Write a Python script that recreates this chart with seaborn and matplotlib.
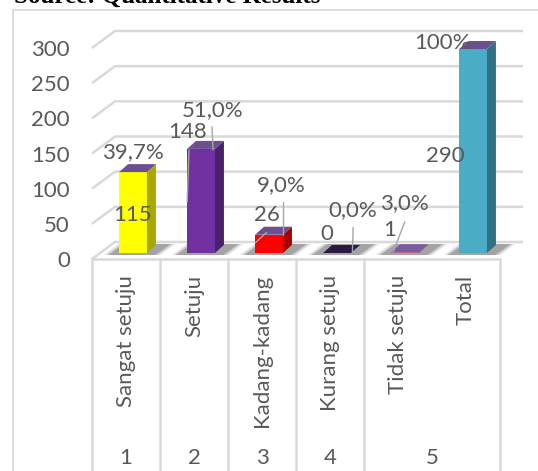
import matplotlib
matplotlib.use("Agg")
import matplotlib.pyplot as plt
import matplotlib.transforms as mtransforms
from matplotlib.patches import Polygon
from matplotlib.lines import Line2D
import seaborn as sns
import pandas as pd

# ---------------- data ----------------
categories = ["Sangat setuju", "Setuju", "Kadang-kadang", "Kurang setuju", "Tidak setuju", "Total"]
values = [115, 148, 26, 0, 1, 290]
value_labels = ["115", "148", "26", "0", "1", "290"]
pct_labels = ["39,7%", "51,0%", "9,0%", "0,0%", "3,0%", "100%"]
group_labels = ["1", "2", "3", "4", "5"]
group_spans = [(0, 0), (1, 1), (2, 2), (3, 3), (4, 5)]
y_ticks = [0, 50, 100, 150, 200, 250, 300]

# ---------------- styles ----------------
front_colors = ["#FFFF00", "#7030A0", "#FF0000", "#21123A", "#D9707A", "#4BACC6"]
side_colors = ["#A8A800", "#4A1F6B", "#A80000", "#150A25", "#8A4F6A", "#2F7283"]
top_colors = ["#6B4F8F", "#6B4F8F", "#6B4F8F", "#2A1A40", "#7A5CA0", "#6B4F8F"]
pct_pos = [(0.10, 152), (1.27, 212), (2.29, 105), (3.34, 70), (4.10, 80), (4.66, 307)]
val_pos = [(0.09, 63), (0.91, 181), (2.07, 63), (2.96, 36), (3.88, 41), (4.69, 147)]
leaders = [((0.926, 155), (0.90, 81)), ((1.265, 188), (1.28, 155)),
           ((2.31, 81), (2.31, 34)), ((1.90, 23), (2.07, 38)),
           ((3.34, 45), (3.33, 10)), ((4.10, 53), (3.93, 10))]
TXT = "#595959"
GRID = "#D9D9D9"
FS = 16

W, H = 538, 471
sns.set_style("white")
plt.rcParams['font.family'] = ['Lato', 'DejaVu Sans']

fig = plt.figure(figsize=(W / 100, H / 100), dpi=100)
ax = fig.add_axes([92 / W, (H - 259) / H, 408 / W, 211 / H])
ax.patch.set_alpha(0)

df = pd.DataFrame({"cat": categories, "val": values})
sns.barplot(data=df, x="cat", y="val", hue="cat", palette=front_colors,
            width=0.41, saturation=1, legend=False, ax=ax)
ax.set_xlim(-0.5, 5.5)
ax.set_ylim(0, 300)
for s in ax.spines.values():
    s.set_visible(False)

# pixel -> data unit factors
p0 = ax.transData.transform((0, 0))
p1 = ax.transData.transform((1, 1))
sx, sy = p1[0] - p0[0], p1[1] - p0[1]

# back-plane gridlines (3D look)
gdx, gdy = 23 / sx, 17 / sy
for v in y_ticks:
    ax.plot([-0.5, -0.5 + gdx, 5.5 + gdx], [v, v + gdy, v + gdy],
            color=GRID, lw=1.8, clip_on=False, zorder=0.5, solid_capstyle='butt')

# bars with 3D sides/tops
off = mtransforms.ScaledTranslation(7 / 100, 6 / 100, fig.dpi_scale_trans)
tr = ax.transData + off
dx, dy = 9 / sx, 8 / sy
patches = sorted(ax.patches, key=lambda p: p.get_x())
for i, p in enumerate(patches):
    x0, w, h = p.get_x(), p.get_width(), p.get_height()
    p.set_transform(tr)
    p.set_clip_on(False)
    p.set_edgecolor('none')
    p.set_zorder(3)
    # shadow
    for k, a in enumerate([0.10, 0.15, 0.22]):
        e = (3 - k) * 2.5
        ax.add_patch(Polygon([(x0 - (8 + e) / sx, -2 / sy), (x0 + w + (6 + e) / sx, -2 / sy),
                              (x0 + w + dx + (12 + e) / sx, dy + 1 / sy), (x0 + dx - (2 + e) / sx, dy + 1 / sy)],
                             closed=True, facecolor="#202020", alpha=a, edgecolor='none',
                             transform=tr, clip_on=False, zorder=2))
    ax.add_patch(Polygon([(x0 + w, 0), (x0 + w + dx, dy), (x0 + w + dx, h + dy), (x0 + w, h)],
                         closed=True, facecolor=side_colors[i], edgecolor='none',
                         transform=tr, clip_on=False, zorder=3))
    ax.add_patch(Polygon([(x0, h), (x0 + w, h), (x0 + w + dx, h + dy), (x0 + dx, h + dy)],
                         closed=True, facecolor=top_colors[i], edgecolor='none',
                         transform=tr, clip_on=False, zorder=3.1))

# category table
ax.plot([-0.5, 5.5], [0, 0], color=GRID, lw=1.8, clip_on=False, zorder=0.6)
bounds = [-0.5, 0.5, 1.5, 2.5, 3.5, 5.5]
for b in bounds:
    ax.plot([b, b], [0, -400], color=GRID, lw=1.8, clip_on=False, zorder=0.6)

ax.set_xticks(range(len(categories)))
ax.set_xticklabels(categories, rotation=90, fontsize=FS, color=TXT)
ax.tick_params(axis='x', length=0, pad=11.5)
ax.set_yticks(y_ticks)
ax.set_yticklabels([str(v) for v in y_ticks], fontsize=FS, color=TXT)
ax.tick_params(axis='y', length=0, pad=16)
ax.set_xlabel("")
ax.set_ylabel("")

btr = mtransforms.blended_transform_factory(ax.transData, fig.transFigure)
for lab, (a, b) in zip(group_labels, group_spans):
    ax.text((a + b) / 2, 1 - 458 / H, lab, transform=btr, ha='center', va='center',
            fontsize=FS, color=TXT)

# data labels
for (x, y), t in zip(pct_pos, pct_labels):
    ax.text(x, y, t, ha='center', va='center', fontsize=FS, color=TXT, zorder=5, clip_on=False)
for (x, y), t in zip(val_pos, value_labels):
    ax.text(x, y, t, ha='center', va='center', fontsize=FS, color=TXT, zorder=5, clip_on=False)
for (a, b) in leaders:
    ax.plot([a[0], b[0]], [a[1], b[1]], color="#A6A6A6", lw=1, clip_on=False, zorder=4)

# chart border and cropped source line
fig.add_artist(Line2D([13 / W, 13 / W], [0, 1 - 10 / H], transform=fig.transFigure, color=GRID, lw=1.3))
fig.add_artist(Line2D([13 / W, 1], [1 - 10 / H, 1 - 10 / H], transform=fig.transFigure, color=GRID, lw=1.3))
fig.text(14 / W, 1 - 3 / H, "Source: Quantitative Results", family=['Liberation Serif', 'DejaVu Serif'],
         weight='bold', fontsize=18, ha='left', va='baseline', color='black')

fig.savefig("out.png", dpi=100)
